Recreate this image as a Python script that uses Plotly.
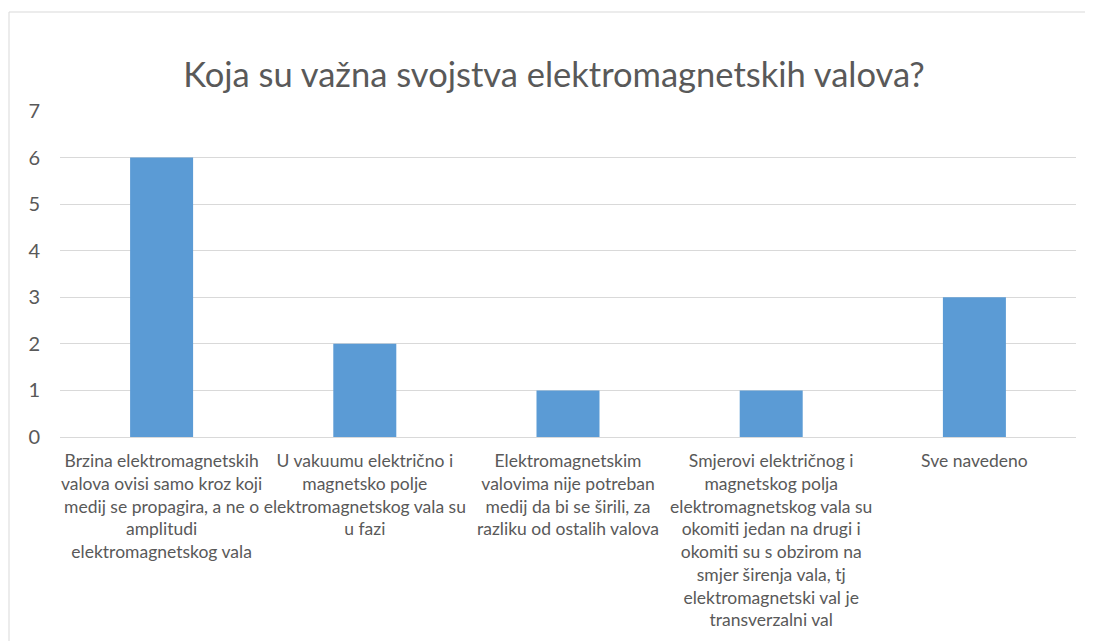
import plotly.graph_objects as go

categories = [
    "Brzina elektromagnetskih<br>valova ovisi samo kroz koji<br>medij se propagira, a ne o<br>amplitudi<br>elektromagnetskog vala",
    "U vakuumu električno i<br>magnetsko polje<br>elektromagnetskog vala su<br>u fazi",
    "Elektromagnetskim<br>valovima nije potreban<br>medij da bi se širili, za<br>razliku od ostalih valova",
    "Smjerovi električnog i<br>magnetskog polja<br>elektromagnetskog vala su<br>okomiti jedan na drugi i<br>okomiti su s obzirom na<br>smjer širenja vala, tj<br>elektromagnetski val je<br>transverzalni val",
    "Sve navedeno",
]
values = [6, 2, 1, 1, 3]
y_ticks = [0, 1, 2, 3, 4, 5, 6, 7]
title_text = "Koja su važna svojstva elektromagnetskih valova?"

W, H = 1093, 641
OFF = 8  # page body offset
L, R, T, B = 60 - OFF, 1093 - (1076 - OFF), 111 - OFF, 641 - (437 - OFF)
pw = W - L - R
ph = H - T - B

fig = go.Figure(go.Bar(x=categories, y=values, marker_color="#5B9BD5", marker_line_width=0))

fig.update_layout(
    width=W, height=H,
    margin=dict(l=L, r=R, t=T, b=B),
    paper_bgcolor="white", plot_bgcolor="white",
    bargap=0.69,
    font=dict(family="Lato, Open Sans, sans-serif", color="#595959"),
    title=dict(text=title_text, x=(554 - OFF) / W, xanchor="center", y=1 - (75 - OFF) / H, yanchor="middle",
               font=dict(size=34.5, color="#595959")),
    xaxis=dict(showgrid=False, showline=True, linecolor="#d9d9d9", linewidth=1,
               ticks="", tickfont=dict(size=17.5, color="#595959"), tickangle=0,
               ticklabelstandoff=8),
    yaxis=dict(range=[0, 7], tickvals=y_ticks, showgrid=True, gridcolor="#d9d9d9",
               gridwidth=1, zeroline=False, showline=False, ticks="",
               tickfont=dict(size=20, color="#595959"), ticklabelstandoff=19),
    showlegend=False,
)

fig.add_shape(type="rect", xref="paper", yref="paper",
              x0=(9 - OFF - L) / pw, x1=(1120 - L) / pw,
              y0=(H - B - 680) / ph, y1=(H - B - (12 - OFF)) / ph,
              line=dict(color="#d9d9d9", width=1), fillcolor="rgba(0,0,0,0)", layer="below")

fig.write_html("out.html")
